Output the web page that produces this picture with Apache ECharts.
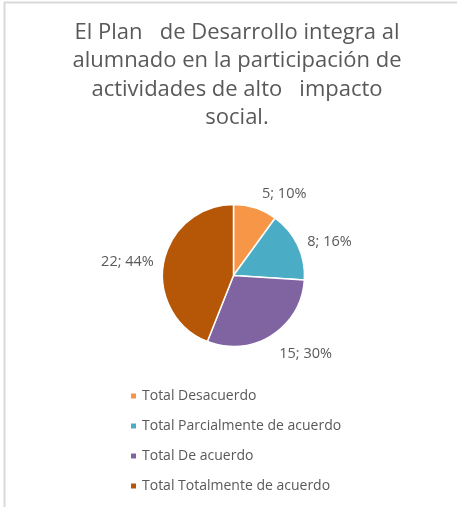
<!DOCTYPE html>
<html>
<head>
<meta charset="utf-8">
<script src="https://cdn.jsdelivr.net/npm/echarts@6/dist/echarts.min.js"></script>
<style>
html,body{margin:0;padding:0;background:#fff;}
#chart{width:457px;height:507px;}
</style>
</head>
<body>
<div id="chart"></div>
<script>
var titleLines = [
  'El Plan   de Desarrollo integra al',
  'alumnado en la participación de',
  'actividades de alto   impacto',
  'social.'
];
var categories = ['Total Desacuerdo', 'Total Parcialmente de acuerdo', 'Total De acuerdo', 'Total Totalmente de acuerdo'];
var values = [5, 8, 15, 22];
var colors = ['#F79646', '#4BACC6', '#8064A2', '#B65708'];

var chart = echarts.init(document.getElementById('chart'), null, {renderer: 'canvas'});
var fontFam = '"Open Sans", Lato, sans-serif';
var labelShiftY = [-9, -1, 14, 1];
chart.setOption({
  animation: false,
  backgroundColor: '#ffffff',
  title: {
    text: titleLines.join('\n'),
    left: 232,
    top: 13,
    textAlign: 'center',
    textStyle: {
      fontFamily: fontFam,
      fontSize: 22,
      fontWeight: 'normal',
      color: '#595959',
      lineHeight: 28.5
    }
  },
  legend: {
    orient: 'vertical',
    left: 124,
    top: 384,
    icon: 'rect',
    itemWidth: 7,
    itemHeight: 7,
    itemGap: 16,
    textStyle: {fontFamily: fontFam, fontSize: 14, lineHeight: 14, color: '#595959'},
    data: categories
  },
  graphic: [
    {type: 'line', shape: {x1: 4.5, y1: 2, x2: 4.5, y2: 507}, style: {stroke: '#d9d9d9', lineWidth: 2}},
    {type: 'line', shape: {x1: 4, y1: 2.5, x2: 457, y2: 2.5}, style: {stroke: '#d9d9d9', lineWidth: 2}}
  ],
  series: [{
    type: 'pie',
    center: [233.5, 275.5],
    radius: 71,
    startAngle: 90,
    clockwise: true,
    data: categories.map(function (c, i) {
      return {name: c, value: values[i], itemStyle: {color: colors[i]}};
    }),
    itemStyle: {borderColor: '#ffffff', borderWidth: 1.5},
    label: {
      show: true,
      position: 'outside',
      formatter: '{c}; {d}%',
      fontFamily: fontFam,
      fontSize: 14.5,
      color: '#595959'
    },
    labelLine: {show: false, length: 5, length2: 0},
    labelLayout: function (p) { return {dy: labelShiftY[p.dataIndex]}; },
    emphasis: {disabled: true}
  }]
});
</script>
</body>
</html>
